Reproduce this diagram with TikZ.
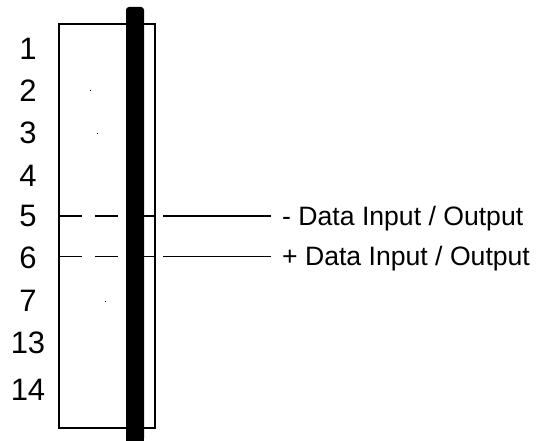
\documentclass[tikz,border=0pt]{standalone}
\usepackage{fontspec}
\setmainfont{Liberation Sans}
\tikzset{
  pin/.style={anchor=center,inner sep=0pt,font=\fontsize{31}{34}\selectfont},
  sig/.style={anchor=west,inner sep=0pt,font=\fontsize{26.6}{30}\selectfont},
  wire/.style={line width=1.6pt,black},
  speck/.style={fill=black,inner sep=0pt,minimum size=1pt,shape=rectangle}
}
\begin{document}
\begin{tikzpicture}[x=1pt,y=-1pt]
\useasboundingbox (0,0) rectangle (548,441);
\draw[line width=1.4pt] (59,24) rectangle (155,428);
\draw[wire] (59,216) -- (82,216) (95,216) -- (118,216) (144,216) -- (155,216);
\draw[wire] (59,256.5) -- (82,256.5) (95,256.5) -- (118,256.5) (144,256.5) -- (155,256.5);
\fill[black,rounded corners=3pt] (126,441) -- (126,7) -- (144,7) -- (144,441) -- cycle;
\fill[black] (126,432) rectangle (144,441);
\node[pin] (p1) at (28,49) {1};
\node[pin] (p2) at (28,91) {2};
\node[pin] (p3) at (28,133) {3};
\node[pin] (p4) at (28,176) {4};
\node[pin] (p5) at (28,216) {5};
\node[pin] (p6) at (28,258) {6};
\node[pin] (p7) at (28,301) {7};
\node[pin] (p13) at (28,343) {13};
\node[pin] (p14) at (28,390) {14};
\node[sig] (minus) at (282,219) {- Data Input / Output};
\node[sig] (plus) at (282,259) {+ Data Input / Output};
\coordinate (mstart) at (163,216);
\coordinate (mend) at (271,216);
\coordinate (pstart) at (163,256.5);
\coordinate (pend) at (271,256.5);
\draw[wire] (mstart) -- (mend);
\draw[wire] (pstart) -- (pend);
\node[speck] at (90,91) {};
\node[speck] at (97.5,133) {};
\node[speck] at (105,301) {};
\end{tikzpicture}
\end{document}
